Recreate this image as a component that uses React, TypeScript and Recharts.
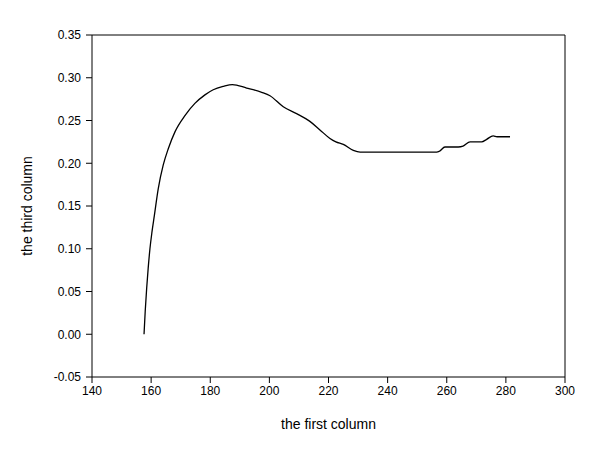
import { LineChart, Line, XAxis, YAxis, ReferenceLine } from 'recharts';

// values
const firstColumn = [
  157.6, 158.0, 158.5, 159.0, 159.6, 160.3, 161.1, 162.4, 164.1, 165.8, 168.1, 171.5, 174.8,
  178.2, 181.0, 184.5, 187.5, 192.3, 197.4, 200.2, 204.7, 209.2, 213.7, 217.1, 220.5, 222.5,
  225.0, 228.4, 230.7, 256.6, 257.5, 259.4, 263.9, 265.5, 267.9, 271.8, 273.5, 275.7, 277.0,
  281.4,
];
const thirdColumn = [
  0.0, 0.027, 0.054, 0.077, 0.1, 0.12, 0.139, 0.17, 0.198, 0.217, 0.237, 0.256, 0.27,
  0.28, 0.286, 0.29, 0.292, 0.288, 0.283, 0.279, 0.266, 0.258, 0.249, 0.239, 0.229, 0.225,
  0.222, 0.215, 0.213, 0.213, 0.214, 0.219, 0.219, 0.22, 0.225, 0.225, 0.228, 0.232, 0.231,
  0.231,
];
const xTicks = [140, 160, 180, 200, 220, 240, 260, 280, 300];
const yTicks = [-0.05, 0, 0.05, 0.1, 0.15, 0.2, 0.25, 0.3, 0.35];

const data = firstColumn.map((x, i) => ({ x, y: thirdColumn[i] }));

const font = { fontFamily: '"Liberation Sans", Arial, sans-serif', fontSize: 12, fill: '#000' };

export default function App() {
  return (
    <div style={{ position: 'absolute', left: 0, top: 0, width: 594, height: 449, background: '#fff' }}>
      <LineChart width={594} height={449} data={data} margin={{ top: 35, right: 29, bottom: 0, left: 0 }}>
        <XAxis
          dataKey="x"
          type="number"
          domain={[140, 300]}
          ticks={xTicks}
          allowDataOverflow
          height={72}
          stroke="#000"
          tickSize={6}
          tick={font}
          tickMargin={3}
          label={{ value: 'the first column', position: 'insideBottom', offset: 20, style: { ...font, fontSize: 14 } }}
        />
        <YAxis
          type="number"
          domain={[-0.05, 0.35]}
          ticks={yTicks}
          allowDataOverflow
          width={92}
          stroke="#000"
          tickSize={6}
          tick={font}
          tickMargin={5}
          tickFormatter={(v: number) => v.toFixed(2)}
          label={{ value: 'the third column', angle: -90, position: 'insideLeft', offset: 27, style: { ...font, fontSize: 14, textAnchor: 'middle' } }}
        />
        <ReferenceLine y={0.35} stroke="#000" ifOverflow="extendDomain" />
        <ReferenceLine x={300} stroke="#000" ifOverflow="extendDomain" />
        <Line
          dataKey="y"
          type="monotone"
          stroke="#000"
          strokeWidth={1.3}
          dot={false}
          isAnimationActive={false}
        />
      </LineChart>
    </div>
  );
}
